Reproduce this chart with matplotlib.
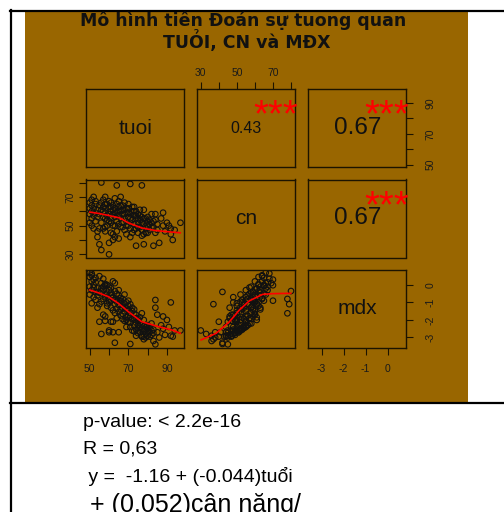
import matplotlib
matplotlib.use("Agg")
import matplotlib.pyplot as plt
from matplotlib.lines import Line2D
from matplotlib.patches import Rectangle

W, H = 504, 512

# age (tuoi), weight (cn), bone density T-score (mdx)
tuoi = [
    50, 50, 50, 50, 51, 51, 51, 51, 51, 52, 52, 52, 52, 53, 53, 53, 53, 54, 54, 54, 54,
    55, 55, 55, 55, 56, 56, 56, 56, 57, 57, 57, 58, 58, 58, 59, 59, 60, 60, 60, 60, 60,
    61, 61, 61, 62, 62, 62, 62, 64, 63, 63, 63, 64, 64, 64, 65, 65, 65, 63, 66, 66, 66,
    67, 67, 67, 68, 68, 68, 68, 69, 69, 69, 70, 70, 70, 70, 71, 71, 71, 71, 72, 72, 72,
    73, 73, 73, 74, 74, 74, 74, 75, 75, 75, 76, 76, 76, 77, 77, 77, 78, 78, 78, 78,
    79, 79, 80, 80, 80, 81, 81, 82, 82, 83, 83, 84, 84, 84, 85, 85,
    86, 87, 88, 88, 89, 90, 91, 92, 92, 93, 94, 97,
    56, 57, 58, 59, 60, 61, 62, 63, 64, 65, 66, 67, 68, 69, 70, 71, 72, 73, 74, 75,
    76, 77, 78, 79, 80, 81, 82, 83, 57, 59, 61, 63, 65, 67, 69, 71, 73, 75, 77, 79, 58, 66,
    58, 61, 62, 65, 58,
]
cn = [
    62, 58, 66, 52, 68, 60, 55, 50, 64, 57, 70, 62, 48, 65, 59, 53, 67, 61, 46, 56, 42,
    64, 58, 37, 48, 80, 33, 66, 52, 60, 68, 48, 62, 55, 65, 57, 50, 30, 38, 63, 58, 53,
    66, 60, 55, 64, 40, 58, 50, 78, 62, 56, 69, 59, 53, 46, 63, 57, 67, 42, 60, 55, 49,
    64, 58, 52, 61, 55, 47, 66, 59, 53, 44, 62, 56, 50, 65, 79, 58, 48, 42, 54, 60, 45,
    57, 51, 63, 36, 55, 48, 60, 52, 58, 45, 54, 49, 61, 78, 52, 47, 37, 61, 55, 44,
    52, 48, 56, 45, 50, 54, 47, 52, 58, 36, 49, 58, 54, 45, 51, 47,
    38, 55, 59, 50, 46, 52, 50, 48, 44, 40, 47, 52,
    61, 63, 59, 65, 67, 63, 61, 59, 65, 60, 64, 61, 58, 62, 59, 55, 63, 60, 57, 55,
    57, 56, 51, 55, 53, 51, 49, 53, 56, 54, 52, 50, 51, 49, 50, 52, 47, 49, 43, 45, 70, 70,
    46, 45, 44, 41, 49,
]
mdx = [
    0.45, -0.1, 0.7, -0.55, 0.65, 0.2, -0.3, -1.05, 0.55, -0.15, 0.3, 0.0, -0.7, 0.4,
    -0.4, -0.85, 0.15, -0.2, -1.3, -0.6, -0.4,
    0.5, -0.45, -1.1, -2.1, -0.35, -2.8, 0.1, -0.95, -0.25, 0.35, -1.7, 0.05, -0.7,
    -0.05, -0.5, -1.2, -2.6, -2.7, -0.3, -0.85, -1.0,
    -0.2, -0.6, -0.9, 0.2, -2.1, -0.75, -1.45, -0.8, -0.35, -1.1, 0.1, -0.95, -1.35,
    -1.9, -0.6, -1.15, -0.3, -3.3, -0.95, -1.4, -1.75,
    -0.8, -1.3, -1.65, -1.05, -1.5, -2.05, -0.55, -1.35, -1.85, -2.4, -1.2, -1.75,
    -2.1, -0.9, -1.1, -1.6, -2.4, -3.37, -1.95, -1.5, -2.6,
    -1.9, -2.3, -1.4, -2.9, -2.15, -2.55, -1.7, -2.3, -1.95, -2.75, -2.45, -2.7,
    -1.85, -1.62, -2.5, -2.9, -3.1, -2.0, -2.35, -2.95,
    -2.55, -2.8, -2.3, -2.9, -2.65, -2.45, -2.95, -2.6, -2.2, -3.2, -2.75, -0.86,
    -1.3, -3.39, -2.7, -1.7,
    -3.0, -2.3, -1.8, -2.5, -2.85, -2.0, -2.4, -1.0, -2.9, -2.95, -2.6, -2.6,
    -0.2, -0.1, -0.6, 0.0, -0.1, -0.45, -0.7, -0.85, -0.5, -0.9, -0.75, -1.1, -1.25,
    -1.0, -1.45, -1.8, -1.3, -1.65, -1.9, -2.05, -2.2, -2.3, -2.6, -2.4, -2.5, -2.7,
    -2.85, -2.55, -0.8, -1.05, -1.3, -1.6, -1.55, -1.95, -2.0, -2.15, -2.65, -2.6,
    -2.95, -3.0, -0.02, -0.9,
    -1.8, -2.1, -2.7, -2.7, -2.05,
]

# red smoothers
fit_tuoi_cn_x = [50, 55, 59.6, 65.6, 70, 76.9, 83.9, 90.8, 96.9]
fit_tuoi_cn_y = [59.4, 58.4, 57.1, 55.3, 51.9, 48.4, 46.6, 45.7, 45.0]
fit_tuoi_mdx_x = [50, 55, 59.6, 64.8, 70, 76.9, 85.6, 92.5, 96.9]
fit_tuoi_mdx_y = [-0.29, -0.47, -0.67, -1.05, -1.53, -2.1, -2.38, -2.57, -2.76]
fit_cn_mdx_x = [30.2, 38.5, 45.9, 51.4, 56.9, 64.3, 69.8, 79.9]
fit_cn_mdx_y = [-3.14, -2.76, -2.1, -1.43, -0.91, -0.54, -0.5, -0.48]

var_names = ["tuoi", "cn", "mdx"]
cor_values = {(0, 1): "0.43", (0, 2): "0.67", (1, 2): "0.67"}
cor_sizes = {(0, 1): 11.5, (0, 2): 17.5, (1, 2): 17.5}
stars = "***"

title_lines = ["Mô hình tiên Đoán sự tuong quan", "TUỎI, CN và MĐX"]
note_lines = ["p-value: < 2.2e-16", "R = 0,63", " y =  -1.16 + (-0.044)tuổi"]
note_last = " + (0.052)cân nặng/"

BROWN = "#996600"
LIMS = {"tuoi": (48.2, 99.0), "cn": (27.8, 82.1), "mdx": (-3.6, 0.85)}
TICKS = {
    "tuoi": ([50, 60, 70, 80, 90], ["50", "", "70", "", "90"]),
    "cn": ([30, 40, 50, 60, 70, 80], ["30", "", "50", "", "70", ""]),
    "mdx": ([-3, -2, -1, 0], ["-3", "-2", "-1", "0"]),
}

COL_X = [86.3, 196.8, 308.3]
ROW_Y = [89.3, 179.5, 270.0]
PW, PH = 98.0, 78.0


def fx(px: float) -> float:
    return px / W


def fy(py: float) -> float:
    return 1 - py / H


def add_panel(fig, row: int, col: int):
    x0, y0 = COL_X[col], ROW_Y[row]
    ax = fig.add_axes([fx(x0), fy(y0 + PH), PW / W, PH / H])
    ax.patch.set_alpha(0)
    ax.set_zorder(2)
    for s in ax.spines.values():
        s.set_linewidth(1.0)
        s.set_color("#1c1400")
    ax.set_xlim(*LIMS[var_names[col]])
    ax.set_ylim(*LIMS[var_names[row]])
    ax.set_xticks([])
    ax.set_yticks([])
    return ax


def set_axis(ax, which: str, var: str, pad: float) -> None:
    ticks, labels = TICKS[var]
    kw = dict(direction="out", length=5, width=0.8, color="#1c1400",
              labelsize=7.5, labelcolor="#1a1a1a", pad=pad)
    if which in ("top", "bottom"):
        ax.set_xticks(ticks)
        ax.set_xticklabels(labels)
        ax.tick_params(axis="x", bottom=(which == "bottom"), top=(which == "top"),
                       labelbottom=(which == "bottom"), labeltop=(which == "top"), **kw)
    else:
        ax.set_yticks(ticks)
        ax.set_yticklabels(labels, rotation=90, va="center")
        ax.tick_params(axis="y", left=(which == "left"), right=(which == "right"),
                       labelleft=(which == "left"), labelright=(which == "right"), **kw)
    for t in ax.get_xticklabels() + ax.get_yticklabels():
        t.set_family("Liberation Sans")


def main() -> None:
    fig = plt.figure(figsize=(W / 100, H / 100), dpi=100)
    fig.patch.set_facecolor("white")

    # brown picture area and the slide table lines
    fig.patches.append(Rectangle((fx(25), fy(402)), fx(468) - fx(25), fy(12) - fy(402),
                                 transform=fig.transFigure, facecolor=BROWN,
                                 edgecolor="none", zorder=-10))
    for xs, ys in [([11, 11], [10, 512]), ([10, 504], [11, 11]), ([10, 504], [403, 403])]:
        fig.add_artist(Line2D([fx(x) for x in xs], [fy(y) for y in ys],
                              transform=fig.transFigure, color="black", lw=1.6, zorder=-5))

    data = {"tuoi": tuoi, "cn": cn, "mdx": mdx}
    fits = {
        (1, 0): (fit_tuoi_cn_x, fit_tuoi_cn_y),
        (2, 0): (fit_tuoi_mdx_x, fit_tuoi_mdx_y),
        (2, 1): (fit_cn_mdx_x, fit_cn_mdx_y),
    }

    axes = {}
    for r in range(3):
        for c in range(3):
            ax = add_panel(fig, r, c)
            axes[(r, c)] = ax
            if r == c:
                ax.text(0.5, 0.5, var_names[r], transform=ax.transAxes, ha="center",
                        va="center", fontsize=15, family="Liberation Sans", color="#111111")
            elif r < c:
                ax.text(0.5, 0.5, cor_values[(r, c)], transform=ax.transAxes, ha="center",
                        va="center", fontsize=cor_sizes[(r, c)], family="Liberation Sans",
                        color="#111111")
                # asterisks sit high in the em box, so anchor on the baseline
                ax.text(0.8, 0.52, stars, transform=ax.transAxes, ha="center",
                        va="baseline", fontsize=27.5, family="Liberation Sans",
                        color="red", clip_on=False)
            else:
                xv, yv = var_names[c], var_names[r]
                ax.scatter(data[xv], data[yv], s=16, facecolors="none",
                           edgecolors="#111111", linewidths=0.8, zorder=2)
                fxs, fys = fits[(r, c)]
                ax.plot(fxs, fys, color="red", lw=1.2, zorder=3)

    set_axis(axes[(0, 1)], "top", "cn", 3.0)
    set_axis(axes[(0, 2)], "right", "tuoi", 9.0)
    set_axis(axes[(1, 0)], "left", "cn", 3.0)
    set_axis(axes[(2, 0)], "bottom", "tuoi", 6.5)
    set_axis(axes[(2, 2)], "right", "mdx", 9.0)
    set_axis(axes[(2, 2)], "bottom", "mdx", 6.5)

    fig.text(fx(243), fy(26), title_lines[0], ha="center", va="baseline",
             fontsize=12.5, fontweight="bold", family="DejaVu Sans", color="#111111")
    fig.text(fx(246.5), fy(48), title_lines[1], ha="center", va="baseline",
             fontsize=12.5, fontweight="bold", family="DejaVu Sans", color="#111111")

    for i, line in enumerate(note_lines):
        fig.text(fx(83), fy([427, 454, 482][i]), line, ha="left", va="baseline",
                 fontsize=14, family="Liberation Sans", color="black")
    # the last line runs off the bottom edge, as on the slide
    fig.text(fx(83), fy(512), note_last, ha="left", va="baseline",
             fontsize=18, family="Liberation Sans", color="black")

    fig.savefig("out.png", dpi=100)
    plt.close(fig)


if __name__ == "__main__":
    main()
